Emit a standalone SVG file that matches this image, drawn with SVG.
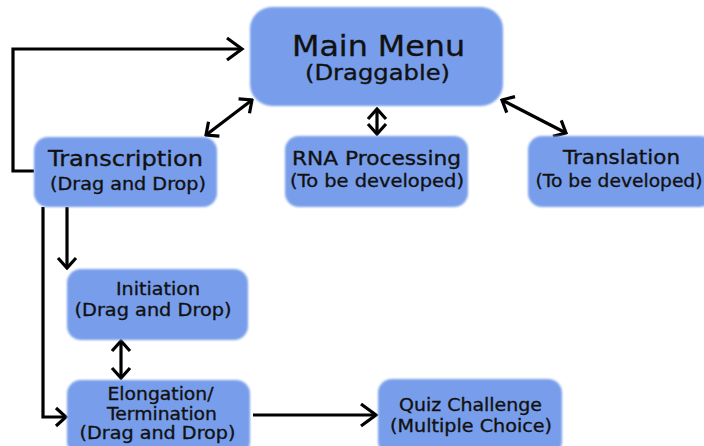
<svg xmlns="http://www.w3.org/2000/svg" width="704" height="446" viewBox="0 0 704 446">
  <style>
    .box { fill: #789eeb; filter: url(#soft); }
    .t { font-family: "DejaVu Sans", Verdana, sans-serif; fill: #111; stroke: #111; stroke-width: 0.35; text-anchor: middle; }
    .c { fill: none; stroke: #000; stroke-width: 3.2; }
  </style>
  <defs>
    <filter id="soft" x="-5%" y="-5%" width="110%" height="110%">
      <feGaussianBlur stdDeviation="1.2"/>
    </filter>
    <marker id="big" markerUnits="userSpaceOnUse" viewBox="0 0 20 26" refX="17" refY="13" markerWidth="20" markerHeight="26" orient="auto-start-reverse">
      <path d="M2,2 L17,13 L2,24" fill="none" stroke="#000" stroke-width="3.2"/>
    </marker>
    <marker id="small" markerUnits="userSpaceOnUse" viewBox="0 0 14 22" refX="12" refY="11" markerWidth="14" markerHeight="22" orient="auto-start-reverse">
      <path d="M2,2 L12,11 L2,20" fill="none" stroke="#000" stroke-width="3.2"/>
    </marker>
  </defs>

  <g id="connectors">
    <path class="c" d="M34,171 H13 V49 H242" marker-end="url(#big)"/>
    <path class="c" d="M252,100 L206,135" marker-start="url(#small)" marker-end="url(#small)"/>
    <path class="c" d="M377,109 V134" marker-start="url(#small)" marker-end="url(#small)"/>
    <path class="c" d="M502,100 L566,133" marker-start="url(#small)" marker-end="url(#small)"/>
    <path class="c" d="M67,207 V268" marker-end="url(#small)"/>
    <path class="c" d="M43,207 V417 H66" marker-end="url(#small)"/>
    <path class="c" d="M121,341 V378" marker-start="url(#small)" marker-end="url(#small)"/>
    <path class="c" d="M253,415 H376" marker-end="url(#big)"/>
  </g>

  <g id="main-menu">
    <rect class="box" x="250" y="7" width="253" height="99" rx="22"/>
    <text class="t" x="378.5" y="56" font-size="28" textLength="173" lengthAdjust="spacingAndGlyphs">Main Menu</text>
    <text class="t" x="377.5" y="80" font-size="20.5" textLength="145" lengthAdjust="spacingAndGlyphs">(Draggable)</text>
  </g>

  <g id="transcription">
    <rect class="box" x="34" y="137" width="183" height="70" rx="14"/>
    <text class="t" x="125.5" y="166" font-size="21.5" textLength="155" lengthAdjust="spacingAndGlyphs">Transcription</text>
    <text class="t" x="128" y="190" font-size="18" textLength="156" lengthAdjust="spacingAndGlyphs">(Drag and Drop)</text>
  </g>

  <g id="rna-processing">
    <rect class="box" x="285" y="136" width="183" height="71" rx="14"/>
    <text class="t" x="376.5" y="165" font-size="20" textLength="169" lengthAdjust="spacingAndGlyphs">RNA Processing</text>
    <text class="t" x="377" y="187" font-size="18.5" textLength="174" lengthAdjust="spacingAndGlyphs">(To be developed)</text>
  </g>

  <g id="translation">
    <rect class="box" x="528" y="136" width="186" height="71" rx="14"/>
    <text class="t" x="621.5" y="164" font-size="20" textLength="117" lengthAdjust="spacingAndGlyphs">Translation</text>
    <text class="t" x="619" y="187" font-size="18.5" textLength="167" lengthAdjust="spacingAndGlyphs">(To be developed)</text>
  </g>

  <g id="initiation">
    <rect class="box" x="67" y="269" width="181" height="71" rx="14"/>
    <text class="t" x="158" y="295" font-size="18.5" textLength="84" lengthAdjust="spacingAndGlyphs">Initiation</text>
    <text class="t" x="153" y="316" font-size="18.5" textLength="157" lengthAdjust="spacingAndGlyphs">(Drag and Drop)</text>
  </g>

  <g id="elongation">
    <rect class="box" x="67" y="380" width="183" height="76" rx="14"/>
    <text class="t" x="160.5" y="400" font-size="18" textLength="106" lengthAdjust="spacingAndGlyphs">Elongation/</text>
    <text class="t" x="162" y="420" font-size="18" textLength="110" lengthAdjust="spacingAndGlyphs">Termination</text>
    <text class="t" x="157.5" y="439" font-size="18" textLength="156" lengthAdjust="spacingAndGlyphs">(Drag and Drop)</text>
  </g>

  <g id="quiz-challenge">
    <rect class="box" x="378" y="379" width="184" height="76" rx="14"/>
    <text class="t" x="470.5" y="411" font-size="18" textLength="143" lengthAdjust="spacingAndGlyphs">Quiz Challenge</text>
    <text class="t" x="471" y="432" font-size="18" textLength="162" lengthAdjust="spacingAndGlyphs">(Multiple Choice)</text>
  </g>
</svg>
